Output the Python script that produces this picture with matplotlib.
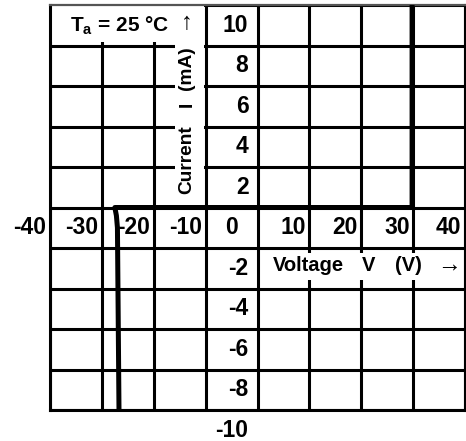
import matplotlib.pyplot as plt
from matplotlib.patches import Rectangle

plt.rcParams['font.family'] = ['Liberation Sans', 'DejaVu Sans']
plt.rcParams['mathtext.fontset'] = 'custom'
plt.rcParams['mathtext.rm'] = 'Liberation Sans'
plt.rcParams['mathtext.bf'] = 'Liberation Sans:bold'

# axis values
voltage_ticks = [-40, -30, -20, -10, 0, 10, 20, 30, 40]
current_ticks = [10, 8, 6, 4, 2, 0, -2, -4, -6, -8, -10]

# I-V curve (V in volts, I in mA)
curve_v = [-26.7, -27.0, -27.2, -27.5, 29.8, 29.8]
curve_i = [-10, -1, -0.4, 0, 0, 10]

fig = plt.figure(figsize=(4.66, 4.41), dpi=100)
ax = fig.add_axes([50 / 466, 31 / 441, 415 / 466, 405 / 441])
ax.set_xlim(-40, 40)
ax.set_ylim(-10, 10)
ax.set_xticks(voltage_ticks)
ax.set_yticks(current_ticks)
ax.tick_params(length=0, labelbottom=False, labelleft=False)
ax.set_axisbelow(True)
ax.grid(True, color='black', lw=2.2)
for s in ['left', 'right', 'bottom']:
    ax.spines[s].set_linewidth(2.2)
ax.spines['top'].set_color('#555555')
ax.spines['top'].set_linewidth(1.6)

# white boxes behind the labels
ax.add_patch(Rectangle((-40, 8.15), 29.7, 1.85, fc='white', ec='none', zorder=1))
ax.add_patch(Rectangle((-15.9, 0.2), 5.6, 9.8, fc='white', ec='none', zorder=1))
ax.add_patch(Rectangle((2, -3.58), 37, 1.33, fc='white', ec='none', zorder=1))

ax.plot(curve_v, curve_i, color='black', lw=3.6, zorder=3, solid_joinstyle='round')

tick_font = dict(fontsize=16.5, fontweight='bold', ha='right', va='center',
                 textcoords='offset points', annotation_clip=False, zorder=4)
for v in voltage_ticks:
    if v == 0:
        continue
    ax.annotate(str(v), xy=(v, -1), xytext=(-2.5, 0), **tick_font)
for c in current_ticks:
    off = -14 if c == 0 else -6.5
    ax.annotate(str(c), xy=(0, c - 1), xytext=(off, 0), **tick_font)

ax.text(-36.1, 9.0, r'T$_\mathbf{a}$ = 25 °C', fontsize=15, fontweight='bold',
        ha='left', va='center', zorder=4)

lab = dict(fontsize=13.8, fontweight='bold', rotation=90, ha='center', va='center', zorder=4)
ax.text(-13.6, 2.37, 'Current', **lab)
ax.text(-13.6, 5.11, 'I', **lab)
ax.text(-13.6, 6.86, '(mA)', **lab)
ax.text(-13.6, 9.11, '↑', fontsize=17, ha='center', va='center', zorder=4)

ax.text(3.0, -2.84, 'Voltage', fontsize=14.5, fontweight='bold', ha='left', va='center', zorder=4)
ax.text(20.1, -2.84, 'V', fontsize=14.5, fontweight='bold', ha='left', va='center', zorder=4)
ax.text(26.5, -2.84, '(V)', fontsize=14.5, fontweight='bold', ha='left', va='center', zorder=4)
ax.text(34.6, -2.84, '→', fontsize=17, ha='left', va='center', zorder=4)

fig.savefig('out.png', dpi=100)
